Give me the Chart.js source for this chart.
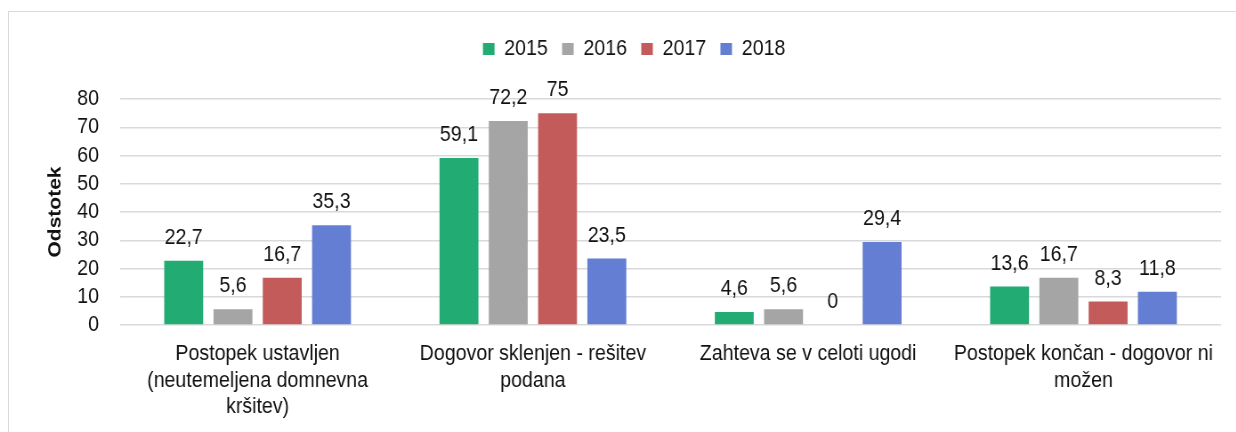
<!DOCTYPE html>
<html>
<head>
<meta charset="utf-8">
<script src="https://cdn.jsdelivr.net/npm/chart.js@4/dist/chart.umd.min.js"></script>
<style>
  html, body { margin: 0; padding: 0; background: #fff; }
  #page { position: relative; width: 1236px; height: 432px; overflow: hidden; }
  /* il grafico originale ha il testo compresso in orizzontale */
  #squeeze { position: absolute; left: 0; top: 0; width: 1389px; height: 432px; transform: scaleX(0.89); transform-origin: 0 0; }
  #frame { position: absolute; left: 8px; top: 11px; width: 1260px; height: 460px; border: 1px solid #d9d9d9; box-sizing: border-box; pointer-events: none; }
</style>
</head>
<body>
<div id="page">
  <div id="squeeze"><canvas id="chart" width="1389" height="432"></canvas></div>
  <div id="frame"></div>
</div>
<script>
var categories = [
    ['Postopek ustavljen', '(neutemeljena domnevna', 'kršitev)'],
    ['Dogovor sklenjen - rešitev', 'podana'],
    'Zahteva se v celoti ugodi',
    ['Postopek končan - dogovor ni', 'možen']
];
var years = ['2015', '2016', '2017', '2018'];
var values2015 = [22.7, 59.1, 4.6, 13.6];
var values2016 = [5.6, 72.2, 5.6, 16.7];
var values2017 = [16.7, 75, 0, 8.3];
var values2018 = [35.3, 23.5, 29.4, 11.8];
var yMin = 0, yMax = 80, yStep = 10;
var axisTitle = 'Odstotek';

var colors = ['#23ab74', '#a5a5a5', '#c45b5b', '#647ed3'];
var FONT = "'Liberation Sans', Arial, sans-serif";
var TEXT = '#111111';

Chart.defaults.font.family = FONT;
Chart.defaults.font.size = 22;
Chart.defaults.color = TEXT;

// etichette dei valori sopra le barre (virgola decimale)
var valueLabels = {
    id: 'valueLabels',
    afterDatasetsDraw: function (chart) {
        var ctx = chart.ctx;
        ctx.save();
        ctx.font = '22px ' + FONT;
        ctx.fillStyle = TEXT;
        ctx.textAlign = 'center';
        ctx.textBaseline = 'alphabetic';
        chart.data.datasets.forEach(function (ds, i) {
            chart.getDatasetMeta(i).data.forEach(function (bar, j) {
                ctx.fillText(String(ds.data[j]).replace('.', ','), bar.x, bar.y - 17);
            });
        });
        ctx.restore();
    }
};

var series = [values2015, values2016, values2017, values2018];

new Chart(document.getElementById('chart'), {
    type: 'bar',
    data: {
        labels: categories,
        datasets: series.map(function (vals, i) {
            return {
                label: years[i],
                data: vals,
                backgroundColor: colors[i],
                borderWidth: 0,
                categoryPercentage: 0.716,
                barPercentage: 0.79
            };
        })
    },
    options: {
        responsive: false,
        animation: false,
        layout: { padding: { top: 22, left: 53, right: 17, bottom: 0 } },
        scales: {
            x: {
                grid: { display: false, drawTicks: false },
                border: { display: false },
                ticks: { padding: 16, maxRotation: 0, autoSkip: false },
                afterFit: function (scale) { scale.height = 107; }
            },
            y: {
                min: yMin,
                max: yMax,
                ticks: { stepSize: yStep, padding: 23.6, autoSkip: false },
                grid: { color: '#d9d9d9', lineWidth: 1.5, drawTicks: false },
                border: { display: false },
                title: {
                    display: true,
                    text: axisTitle,
                    font: { size: 21, weight: 'bold' },
                    padding: { top: -3.8, bottom: 0 }
                },
                afterFit: function (scale) { scale.width = 81.8; }
            }
        },
        plugins: {
            legend: {
                position: 'top',
                labels: { boxWidth: 13, boxHeight: 12, padding: 16 }
            },
            // spazio vuoto tra legenda e area del grafico
            subtitle: {
                display: true,
                text: '',
                weight: 500,
                font: { size: 1 },
                padding: { top: 0, bottom: 27.8 }
            },
            tooltip: { enabled: false }
        }
    },
    plugins: [valueLabels]
});
</script>
</body>
</html>
